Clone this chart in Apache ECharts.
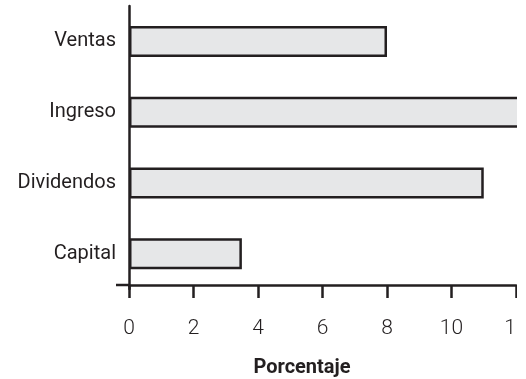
<!DOCTYPE html>
<html>
<head>
<meta charset="utf-8">
<script src="https://cdn.jsdelivr.net/npm/echarts@6/dist/echarts.min.js"></script>
<style>
html,body{margin:0;padding:0;background:#fff;}
#wrap{width:517px;height:379px;overflow:hidden;position:relative;}
#chart{width:526px;height:379px;}
</style>
</head>
<body>
<div id="wrap"><div id="chart"></div></div>
<script>
const categories = ['Ventas', 'Ingreso', 'Dividendos', 'Capital'];
const values = [8, 13, 11, 3.5];
const xTicks = [0, 2, 4, 6, 8, 10, 12];
const axisTitle = 'Porcentaje';

const ink = '#231f20';
const chart = echarts.init(document.getElementById('chart'), null, {renderer: 'canvas'});
chart.setOption({
  animation: false,
  backgroundColor: '#fff',
  textStyle: {fontFamily: 'Roboto, "Liberation Sans", sans-serif'},
  grid: {left: 129, right: 10, top: 6, height: 283, containLabel: false, outerBoundsMode: 'none'},
  xAxis: {
    type: 'value',
    min: xTicks[0],
    max: xTicks[xTicks.length - 1],
    interval: xTicks[1] - xTicks[0],
    offset: -4,
    axisLine: {show: true, lineStyle: {color: ink, width: 2.5}},
    axisTick: {show: true, length: 13, lineStyle: {color: ink, width: 2.5}},
    axisLabel: {color: ink, fontSize: 21, margin: 33, fontFamily: 'Roboto', fontWeight: 300},
    splitLine: {show: false}
  },
  yAxis: {
    type: 'category',
    data: categories,
    inverse: true,
    axisLine: {show: true, lineStyle: {color: ink, width: 2.5}},
    axisTick: {show: false},
    axisLabel: {color: ink, fontSize: 20, margin: 13, fontFamily: 'Roboto', fontWeight: 'normal'}
  },
  series: [{
    type: 'bar',
    data: values,
    barWidth: 31,
    clip: false,
    itemStyle: {color: '#e6e7e8', borderColor: ink, borderWidth: 2.5}
  }],
  graphic: [
    {type: 'line', shape: {x1: 116, y1: 285, x2: 129, y2: 285}, style: {stroke: ink, lineWidth: 2.5}},
    {type: 'text', x: 302, y: 368, style: {text: axisTitle, fill: ink, fontSize: 20, fontWeight: 'bold', fontFamily: 'Roboto', textAlign: 'center', textVerticalAlign: 'middle'}}
  ]
});
</script>
</body>
</html>
